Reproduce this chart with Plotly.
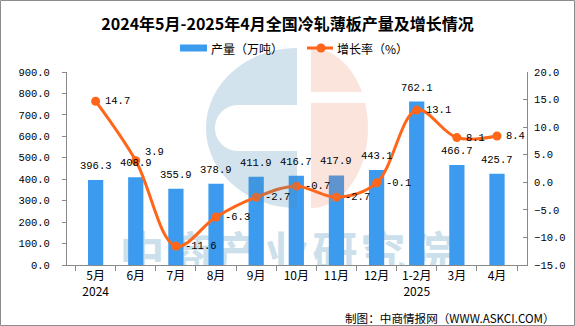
import numpy as np
import plotly.graph_objects as go

# ---- data -------------------------------------------------------------
months = ["5月<br>2024", "6月", "7月", "8月", "9月", "10月", "11月", "12月",
          "1-2月<br>2025", "3月", "4月"]
output_wt = [396.3, 408.9, 355.9, 378.9, 411.9, 416.7, 417.9, 443.1, 762.1, 466.7, 425.7]
growth_pct = [14.7, 3.9, -11.6, -6.3, -2.7, -0.7, -2.7, -0.1, 13.1, 8.1, 8.4]

left_ticks = list(range(0, 901, 100))
right_ticks = list(range(-15, 21, 5))

SERIES_BAR = "产量（万吨）"
SERIES_LINE = "增长率（%）"

# ---- page geometry (pixels) -------------------------------------------
W, H = 575, 326
ML, MR, MT, MB = 67, 48, 72, 61
PW, PH = W - ML - MR, H - MT - MB


def px_x(px):
    return (px - ML) / PW


def px_y(py):
    return (H - MB - py) / PH


def to_path(points, close=True):
    s = "M " + " L ".join(f"{px_x(x):.5f},{px_y(y):.5f}" for x, y in points)
    return s + (" Z" if close else "")


def arc(cx, cy, rx, ry, a0, a1, n=48):
    a = np.radians(np.linspace(a0, a1, n))
    return list(zip(cx + rx * np.cos(a), cy - ry * np.sin(a)))


BAR_BLUE = "#3D9BEF"
LINE_ORANGE = "#FF661A"
NUM_FONT = dict(family="Liberation Mono, DejaVu Sans Mono, monospace", size=10.5, color="#000000")
CJK = "Noto Sans CJK SC, Noto Sans, sans-serif"

fig = go.Figure()

fig.add_trace(go.Bar(
    x=months, y=output_wt, name=SERIES_BAR,
    marker=dict(color=BAR_BLUE, line=dict(width=0)),
    yaxis="y", hoverinfo="x+y",
))

fig.add_trace(go.Scatter(
    x=months, y=growth_pct, name=SERIES_LINE, yaxis="y2",
    mode="lines+markers",
    line=dict(color=LINE_ORANGE, width=3, shape="spline", smoothing=1.0),
    marker=dict(color=LINE_ORANGE, size=9),
))

annotations = []
# value labels above the bars
for m, v in zip(months, output_wt):
    annotations.append(dict(
        x=m, y=v, xref="x", yref="y", text=f"{v:.1f}", showarrow=False,
        xanchor="center", yanchor="bottom", yshift=6, font=NUM_FONT,
    ))
# value labels to the right of the line points
label_lift = {"6月": 9}
for m, v in zip(months, growth_pct):
    annotations.append(dict(
        x=m, y=v, xref="x", yref="y2", text=f"{v:.1f}", showarrow=False,
        xanchor="left", yanchor="middle", xshift=7, yshift=label_lift.get(m, 0),
        font=NUM_FONT,
    ))
# source line
annotations.append(dict(
    x=px_x(557), y=px_y(318), xref="paper", yref="paper",
    text="制图：中商情报网（WWW.ASKCI.COM）", showarrow=False,
    xanchor="right", yanchor="middle",
    font=dict(family=CJK, size=11.6, color="#000000"),
))

shapes = []

# wordmark behind the bars (clipped at the category axis by a white band)
brand = "中商产业研究院"
x_start, pitch = 118, 48.2
for i, ch in enumerate(brand):
    cx = x_start + pitch * (i + 0.5)
    shapes.append(dict(
        type="rect", xref="paper", yref="paper",
        x0=px_x(cx - pitch / 2), x1=px_x(cx + pitch / 2),
        y0=px_y(283), y1=px_y(231),
        line=dict(width=0), fillcolor="rgba(0,0,0,0)", layer="below",
        label=dict(text=ch, textposition="middle center",
                   font=dict(family=CJK, size=45, color="#CCE0EC", weight="bold")),
    ))
shapes.append(dict(
    type="rect", xref="paper", yref="paper",
    x0=px_x(95), x1=px_x(480), y0=px_y(300), y1=px_y(265.5),
    line=dict(width=0), fillcolor="white", layer="below",
))

# outer frame
shapes.append(dict(
    type="rect", xref="paper", yref="paper",
    x0=px_x(0.5), x1=px_x(574.5), y0=px_y(325.5), y1=px_y(0.5),
    line=dict(color="#8C8C8C", width=1), fillcolor="rgba(0,0,0,0)", layer="above",
))

# logo: blue "C"
c_pts = arc(297, 128, 91, 80, 90, 270)
c_pts += [(297, 151), (238, 151)]
c_pts += arc(238, 128, 23, 23, 270, 90)
c_pts += [(297, 105)]
shapes.append(dict(
    type="path", xref="paper", yref="paper", path=to_path(c_pts),
    fillcolor="rgb(70,140,180)", opacity=0.24, line=dict(width=0), layer="above",
))
# logo: orange half disc with a horizontal slot
a_top = np.degrees(np.arcsin((128 - 92) / 80))
a_low = np.degrees(np.arcsin((128 - 103) / 80))
cap = arc(311, 128, 57, 80, 90, a_top) + [(311, 92)]
body = arc(311, 128, 57, 80, a_low, -90) + [(311, 103)]
shapes.append(dict(
    type="path", xref="paper", yref="paper",
    path=to_path(cap) + " " + to_path(body),
    fillcolor="rgb(235,120,80)", opacity=0.2, line=dict(width=0), layer="above",
))

# legend keys
LEG_Y = 48
shapes.append(dict(
    type="rect", xref="paper", yref="paper",
    x0=px_x(180), x1=px_x(207), y0=px_y(LEG_Y + 3.5), y1=px_y(LEG_Y - 3.5),
    line=dict(width=0), fillcolor=BAR_BLUE,
))
shapes.append(dict(
    type="line", xref="paper", yref="paper",
    x0=px_x(307), x1=px_x(333), y0=px_y(LEG_Y), y1=px_y(LEG_Y),
    line=dict(color=LINE_ORANGE, width=3),
))
shapes.append(dict(
    type="circle", xref="paper", yref="paper",
    x0=px_x(316.5), x1=px_x(325.5), y0=px_y(LEG_Y + 4.5), y1=px_y(LEG_Y - 4.5),
    line=dict(width=0), fillcolor=LINE_ORANGE,
))
for x_px, label in [(209, SERIES_BAR), (335, SERIES_LINE)]:
    annotations.append(dict(
        x=px_x(x_px), y=px_y(LEG_Y), xref="paper", yref="paper",
        text=label, showarrow=False, xanchor="left", yanchor="middle",
        font=dict(family=CJK, size=12, color="#000000"),
    ))

fig.update_layout(
    width=W, height=H,
    margin=dict(l=ML, r=MR, t=MT, b=MB, autoexpand=False),
    paper_bgcolor="white", plot_bgcolor="white",
    bargap=0.62,
    title=dict(
        text="2024年5月-2025年4月全国冷轧薄板产量及增长情况",
        x=0.5, xanchor="center", xref="container", y=1 - 24 / H, yanchor="middle", yref="container",
        font=dict(family=CJK, size=16, color="#000000", weight="bold"),
    ),
    showlegend=False,
    xaxis=dict(
        type="category", tickson="boundaries", ticks="outside", ticklen=5,
        tickcolor="#898989", showline=True, linecolor="#898989", linewidth=1,
        showgrid=False, zeroline=False,
        tickfont=dict(family=CJK, size=12, color="#000000"),
    ),
    yaxis=dict(
        range=[0, 900], tickvals=left_ticks, tickformat=".1f",
        ticks="outside", ticklen=4, tickcolor="#898989",
        showline=True, linecolor="#898989", linewidth=1,
        showgrid=False, zeroline=False, ticklabelstandoff=10,
        tickfont=NUM_FONT,
    ),
    yaxis2=dict(
        range=[-15, 20], tickvals=right_ticks, tickformat=".1f",
        overlaying="y", side="right",
        ticks="inside", ticklen=4, tickcolor="#898989",
        showline=True, linecolor="#898989", linewidth=1,
        showgrid=False, zeroline=False, ticklabelstandoff=4,
        tickfont=NUM_FONT,
    ),
    annotations=annotations,
    shapes=shapes,
)

fig.write_html("out.html")
